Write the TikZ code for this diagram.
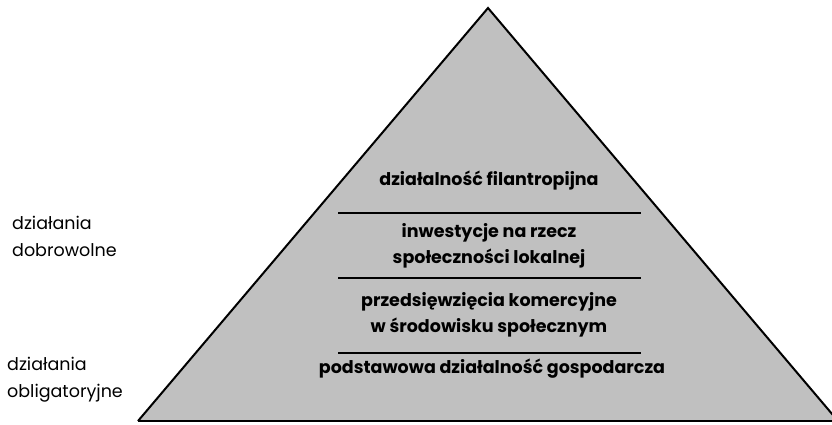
\documentclass[tikz,border=0pt]{standalone}
\usepackage{fontspec}
\setmainfont{Poppins}
\begin{document}
\begin{tikzpicture}[x=1pt,y=-1pt,
  lvl/.style={font=\bfseries\fontsize{17.5}{26}\selectfont, align=center, inner sep=0pt},
  side/.style={font=\fontsize{17.5}{27}\selectfont, align=left, anchor=west, inner sep=0pt},
  sep/.style={line width=2pt}]
\useasboundingbox (0,0) rectangle (832,424);
\begin{scope}
\clip (0,0) rectangle (832,424);
\coordinate (apex) at (488,8);
\coordinate (bl) at (138,421);
\coordinate (br) at (838,421);
\fill[fill={rgb,255:red,192;green,192;blue,192}] (apex) -- (br) -- (bl) -- cycle;
\draw[line width=2pt, line join=miter] (bl) -- (apex) -- (br);
\draw[line width=2pt] (bl) -- (br);
\end{scope}
\coordinate (l1a) at (338,212.5); \coordinate (l1b) at (641,212.5);
\coordinate (l2a) at (338,277.5); \coordinate (l2b) at (641,277.5);
\coordinate (l3a) at (338,352.5); \coordinate (l3b) at (641,352.5);
\draw[sep] (l1a) -- (l1b);
\draw[sep] (l2a) -- (l2b);
\draw[sep] (l3a) -- (l3b);
\node[lvl] (t1) at (489,181) {działalność filantropijna};
\node[lvl] (t2) at (489,245.5) {inwestycje na rzecz\\społeczności lokalnej};
\node[lvl] (t3) at (489,315) {przedsięwzięcia komercyjne\\w środowisku społecznym};
\node[lvl] (t4) at (492,369) {podstawowa działalność gospodarcza};
\node[side] (s1) at (12,236.5) {działania\\dobrowolne};
\node[side] (s2) at (7,380) {działania\\obligatoryjne};
\end{tikzpicture}
\end{document}
